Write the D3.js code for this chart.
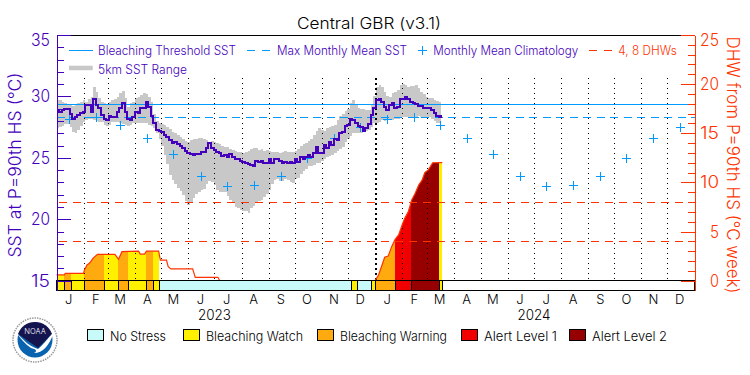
<!DOCTYPE html>
<html>
<head>
<meta charset="utf-8">
<script src="https://cdn.jsdelivr.net/npm/d3@7"></script>
<style>
body { margin:0; background:#fff; }
svg { display:block; }
text { font-family:"Inter","Liberation Sans",sans-serif; font-weight:300; }
</style>
</head>
<body>
<svg id="chart" width="750" height="375"></svg>
<script>
// values
// sst, rangeHigh, rangeLow: one sample every 3 days from 1 Jan 2023
var sst = [28.84,28.75,28.9,28.95,28.95,28.57,28.2,28.3,28.45,28.65,28.75,29.27,29.27,28.75,29.82,29.3,29.03,28.5,28.2,28.1,
  28.4,28.35,28.3,28.75,29.1,29.43,28.75,28.13,28.08,28.35,28.75,28.62,29.1,29.03,29.57,29.15,28.4,27.8,27.3,27.2,
  27.08,26.9,26.72,26.45,26.23,26.3,26.12,26.0,25.77,25.58,25.36,25.31,25.23,25.35,25.3,25.5,25.5,25.77,26.18,25.77,
  25.63,25.5,25.42,25.15,25.23,25.1,25.3,25.09,24.88,24.88,24.77,24.68,24.55,24.5,24.41,24.33,24.77,24.68,24.77,24.55,
  24.55,24.9,24.6,24.93,24.88,24.77,24.55,24.68,24.55,24.68,24.6,24.88,24.68,25.09,24.88,25.09,25.2,25.09,25.36,25.9,
  25.36,25.42,26.04,25.77,26.31,26.04,26.5,26.45,27.05,27.13,27.6,27.67,28.13,28.08,27.81,27.6,27.53,27.2,27.4,27.75,
  28.5,29.1,29.71,29.76,29.57,29.11,28.9,29.3,29.49,29.03,29.11,29.76,29.76,29.92,29.76,29.57,29.43,29.38,29.22,29.22,
  29.03,29.03,29.08,28.9,28.68,28.4,28.35,28.5];
var rangeHigh = [29.7,29.75,29.57,29.44,29.38,29.3,29.2,29.38,29.5,29.57,29.7,29.57,29.76,29.98,30.74,30.4,29.84,29.57,29.44,29.3,
  29.57,29.7,29.76,29.98,30.25,30.47,29.84,29.16,29.44,29.57,29.84,29.98,30.1,30.25,30.2,29.98,29.57,28.6,28.03,27.86,
  27.75,27.67,27.48,27.32,27.1,27.0,26.86,26.67,26.5,26.4,26.31,26.45,26.5,26.55,26.58,26.6,26.55,26.45,26.31,26.4,
  26.29,26.23,26.12,25.96,25.9,25.85,25.74,25.63,25.58,25.47,25.5,25.42,25.5,25.58,25.69,25.77,25.77,25.63,25.7,25.6,
  25.63,25.55,25.5,25.45,25.5,25.4,25.5,25.55,25.45,25.5,25.47,25.55,25.7,26.0,26.1,26.2,26.35,26.5,26.9,27.2,
  27.45,27.3,27.2,27.4,27.5,27.6,27.7,28.1,28.4,28.6,28.8,29.0,29.5,29.7,29.3,29.1,29.0,28.95,28.9,28.9,
  29.3,30.0,30.8,30.9,30.75,30.4,30.0,29.98,30.25,30.4,30.5,30.9,31.05,30.95,30.75,30.85,30.85,30.9,30.7,30.4,
  30.2,29.98,29.9,29.84,29.75,29.6,29.57,29.57];
var rangeLow = [27.4,27.5,27.6,27.75,27.75,27.5,27.1,27.0,27.3,27.6,27.9,28.1,28.2,28.15,28.1,28.0,27.95,27.95,27.7,27.6,
  27.7,27.9,27.95,27.9,27.85,27.75,27.65,27.6,27.7,27.8,27.85,27.85,27.85,27.85,27.8,27.7,27.6,27.4,27.05,26.5,
  26.0,25.2,24.5,23.6,23.2,22.9,22.55,22.3,22.0,21.5,21.15,21.4,21.75,22.05,22.2,22.35,22.5,22.9,23.1,23.0,
  22.8,22.4,22.2,22.2,22.2,21.9,21.6,21.4,21.0,20.95,20.8,20.7,20.65,20.55,20.9,21.1,21.3,21.5,21.55,21.8,
  22.1,22.4,22.9,23.2,23.25,23.1,23.15,23.25,23.2,23.0,22.95,23.3,23.4,23.7,23.9,24.1,24.3,24.3,24.45,24.55,
  24.6,24.75,24.95,25.05,25.15,25.25,25.4,25.6,25.75,25.9,26.3,26.5,26.8,27.0,27.05,27.0,27.05,27.15,27.2,27.3,
  27.5,27.8,27.85,27.95,28.1,28.0,28.05,28.05,28.1,28.2,28.2,28.3,28.3,28.3,28.3,28.35,28.35,28.3,28.4,28.35,
  28.3,28.3,28.3,28.2,28.0,27.85,27.8,27.9];
var sampleStep = 3;

// monthly climatology, Jan..Dec (same for both years)
var climatology = [28.2,28.3,27.67,26.64,25.29,23.55,22.73,22.78,23.55,25.0,26.64,27.5];
var bleachingThreshold = 29.35;
var maxMonthlyMean = 28.32;
var dhwLevels = [4,8];

// DHW, days since 1 Jan 2023, null = no accumulation
var dhwDays = [0,9,10,31,32,35,38,42,47,67,71,75,94,96,101,103,117,119,126,128,131,156,159,185,187,
  188,365,369,373,376,380,384,388,392,396,399,403,407,411,415,419,422,426,431,441,442];
var dhwValues = [0.58,0.58,0.75,0.75,1.1,1.6,1.8,2.3,2.68,2.68,2.17,2.95,3.0,2.7,2.7,3.0,3.0,2.1,2.1,1.43,1.2,1.2,0.34,0.34,0,
  null,0,0.58,1.6,2.38,2.5,3.46,4.2,4.65,5.67,6.35,7.0,8.2,8.9,9.74,10.25,11,11.27,12.0,12.02,12.02];

// stress periods: start day and level, each one runs to the next start
var stressStart = [0,9,17,32,54,71,82,102,110,118,337,344,360,365,388,406,438];
var stressLevel = [1,2,1,2,1,2,1,2,1,0,1,0,1,2,3,4,1];
var stressEnd = 442;

var stressNames = ["No Stress","Bleaching Watch","Bleaching Warning","Alert Level 1","Alert Level 2"];
var stressColors = ["#c8fafa","#fff000","#ffaa0f","#f00000","#960000"];

var purple = "#4400bb", blue = "#0099ff", orange = "#ff3300", grey = "#c8c8c8";

var svg = d3.select("#chart");
var m = {l:56.5, r:694.5, t:35.5, b:290.5};
var barTop = 280.5;

var t0 = new Date(2023,0,1), t1 = new Date(2025,0,1);
var x = d3.scaleTime().domain([t0,t1]).range([m.l,m.r]);
var ySst = d3.scaleLinear().domain([14.25,35]).range([290,35]);
var yDhw = d3.scaleLinear().domain([-0.95,25]).range([290,35]);
function day(d){ return d3.timeDay.offset(t0,d); }

var samples = sst.map(function(v,i){ return {t:day(i*sampleStep), v:v, hi:rangeHigh[i], lo:rangeLow[i]}; });
var dhw = dhwDays.map(function(d,i){ return {t:day(d), v:dhwValues[i]}; });

// grey range
svg.append("path").datum(samples)
    .attr("fill",grey).attr("shape-rendering","crispEdges")
    .attr("d",d3.area().curve(d3.curveStepAfter).x(function(d){return x(d.t);})
        .y0(function(d){return ySst(d.lo);}).y1(function(d){return ySst(d.hi);}));

// stress fill under the DHW curve, none for No Stress
svg.append("clipPath").attr("id","underDhw").append("path").datum(dhw)
    .attr("d",d3.area().defined(function(d){return d.v!==null;})
        .x(function(d){return x(d.t);}).y0(yDhw(0)).y1(function(d){return yDhw(d.v);}));
var stress = stressStart.map(function(s,i){
    return {a:day(s), b:day(i<stressStart.length-1?stressStart[i+1]:stressEnd), level:stressLevel[i], c:stressColors[stressLevel[i]]};
});
svg.append("g").attr("clip-path","url(#underDhw)").selectAll("rect")
    .data(stress.filter(function(d){return d.level>0;})).join("rect")
    .attr("x",function(d){return x(d.a);}).attr("width",function(d){return x(d.b)-x(d.a);})
    .attr("y",yDhw(14)).attr("height",yDhw(0)-yDhw(14))
    .attr("fill",function(d){return d.c;}).attr("shape-rendering","crispEdges");

// month dotted lines
var months = d3.timeMonth.range(d3.timeMonth.offset(t0,1),t1);
function isYearStart(d){ return d.getFullYear()==2024&&d.getMonth()==0; }
svg.append("g").selectAll("line").data(months).join("line")
    .attr("x1",function(d){return Math.round(x(d))+0.5;}).attr("x2",function(d){return Math.round(x(d))+0.5;})
    .attr("y1",78).attr("y2",barTop).attr("shape-rendering","crispEdges")
    .attr("stroke","#000").attr("stroke-dasharray",function(d){return isYearStart(d)?"2,3":"1,4";})
    .attr("stroke-width",function(d){return isYearStart(d)?2:1;});

// reference lines
svg.append("line").attr("x1",m.l).attr("x2",m.r).attr("y1",ySst(bleachingThreshold)).attr("y2",ySst(bleachingThreshold))
    .attr("stroke",blue).attr("stroke-width",1).attr("shape-rendering","crispEdges");
svg.append("line").attr("x1",m.l).attr("x2",m.r).attr("y1",ySst(maxMonthlyMean)).attr("y2",ySst(maxMonthlyMean))
    .attr("stroke",blue).attr("stroke-width",1).attr("stroke-dasharray","8,5.5").attr("shape-rendering","crispEdges");
svg.append("g").selectAll("line").data(dhwLevels).join("line")
    .attr("x1",m.l+2).attr("x2",m.r).attr("y1",function(d){return yDhw(d);}).attr("y2",function(d){return yDhw(d);})
    .attr("stroke",orange).attr("stroke-width",1).attr("stroke-dasharray","8,6").attr("shape-rendering","crispEdges");

// climatology crosses
var climPts = [];
[2023,2024].forEach(function(y){
    climatology.forEach(function(v,i){ climPts.push({t:new Date(y,i,15), v:v}); });
});
svg.append("g").selectAll("path").data(climPts).join("path")
    .attr("transform",function(d){return "translate("+(Math.round(x(d.t))+0.5)+","+(Math.round(ySst(d.v))+0.5)+")";})
    .attr("d","M-4.5,0H4.5M0,-4.5V4.5").attr("shape-rendering","crispEdges")
    .attr("stroke",blue).attr("stroke-width",1).attr("fill","none");

// SST line
svg.append("path").datum(samples)
    .attr("fill","none").attr("stroke",purple).attr("stroke-width",2).attr("shape-rendering","crispEdges")
    .attr("d",d3.line().curve(d3.curveStepAfter).x(function(d){return x(d.t);}).y(function(d){return ySst(d.v);}));

// DHW line
svg.append("path").datum(dhw)
    .attr("fill","none").attr("stroke",orange).attr("stroke-width",1.2)
    .attr("d",d3.line().defined(function(d){return d.v!==null;}).x(function(d){return x(d.t);}).y(function(d){return yDhw(d.v);}));

// stress bar
svg.append("g").selectAll("rect").data(stress).join("rect")
    .attr("x",function(d){return Math.round(x(d.a))+0.5;}).attr("width",function(d){return Math.round(x(d.b))-Math.round(x(d.a));})
    .attr("y",barTop).attr("height",m.b-barTop).attr("shape-rendering","crispEdges")
    .attr("fill",function(d){return d.c;}).attr("stroke","#000").attr("stroke-width",1);
svg.append("rect").attr("x",m.l).attr("y",barTop).attr("width",m.r-m.l).attr("height",m.b-barTop)
    .attr("fill","none").attr("stroke","#000").attr("stroke-width",1).attr("shape-rendering","crispEdges");
svg.append("line").attr("x1",m.l).attr("x2",m.r).attr("y1",m.t).attr("y2",m.t).attr("stroke","#000").attr("stroke-width",1).attr("shape-rendering","crispEdges");

// axes
function tickAxis(axis,transform,color){
    var g = svg.append("g").attr("transform",transform).call(axis);
    g.selectAll("text").remove();
    g.selectAll("line,path").attr("stroke",color).attr("stroke-width",1).attr("shape-rendering","crispEdges");
}
var sstMajor = [15,20,25,30,35], dhwMajor = [0,5,10,15,20,25];
tickAxis(d3.axisLeft(ySst).tickValues(d3.range(15,36)).tickSize(-7).tickSizeOuter(0),"translate("+m.l+",0)",purple);
tickAxis(d3.axisLeft(ySst).tickValues(sstMajor).tickSize(-14).tickSizeOuter(0),"translate("+m.l+",0)",purple);
tickAxis(d3.axisRight(yDhw).tickValues(d3.range(0,26)).tickSize(-7).tickSizeOuter(0),"translate("+m.r+",0)",orange);
tickAxis(d3.axisRight(yDhw).tickValues(dhwMajor).tickSize(-14).tickSizeOuter(0),"translate("+m.r+",0)",orange);

function label(px,py,str,color,size,len,anchor){
    var t = svg.append("text").attr("x",px).attr("y",py).attr("fill",color).attr("font-size",size)
        .attr("text-anchor",anchor||"start").text(str);
    if (len) t.attr("textLength",len).attr("lengthAdjust","spacingAndGlyphs");
    return t;
}

// tick labels
sstMajor.forEach(function(v){
    var py = v==35 ? 46 : ySst(v)+6;
    label(50,py,v,purple,17,19,"end");
});
dhwMajor.forEach(function(v){
    var py = v==25 ? 46 : yDhw(v)+6;
    label(719,py,v,orange,17,v<10?9:19,"end");
});

// axis titles
label(0,0,"SST at P=90th HS (°C)",purple,17,185,"middle").attr("transform","translate(21,165) rotate(-90)");
label(0,0,"DHW from P=90th HS (°C week)",orange,17,257,"middle").attr("transform","translate(727,165) rotate(90)");
label(369,29,"Central GBR (v3.1)","#000",15.5,144,"middle");

// month letters and years
var monthStarts = d3.timeMonth.range(t0,t1);
monthStarts.forEach(function(d){
    label(x(d3.timeDay.offset(d,14)),304,d3.timeFormat("%b")(d)[0],"#000",13,null,"middle");
});
label(x(new Date(2023,6,1)),320,"2023","#000",14,33,"middle");
label(x(new Date(2024,6,1)),320,"2024","#000",14,33,"middle");

// legend at the top
svg.append("line").attr("x1",69).attr("x2",92.7).attr("y1",50.5).attr("y2",50.5).attr("stroke",blue).attr("stroke-width",1).attr("shape-rendering","crispEdges");
label(98,55,"Bleaching Threshold SST",purple,12.5,138);
svg.append("line").attr("x1",247).attr("x2",270).attr("y1",50.5).attr("y2",50.5).attr("stroke",blue).attr("stroke-dasharray","8,7").attr("shape-rendering","crispEdges");
label(277,55,"Max Monthly Mean SST",purple,12.5,130);
svg.append("path").attr("transform","translate(422.5,50.5)").attr("d","M-4.5,0H4.5M0,-4.5V4.5").attr("stroke",blue).attr("fill","none").attr("shape-rendering","crispEdges");
label(433.3,55,"Monthly Mean Climatology",purple,12.5,145);
svg.append("line").attr("x1",589).attr("x2",612).attr("y1",50.5).attr("y2",50.5).attr("stroke",orange).attr("stroke-dasharray","8,7").attr("shape-rendering","crispEdges");
label(618.3,55,"4, 8 DHWs",orange,12.5,58.5);
svg.append("rect").attr("x",69).attr("width",23.7).attr("y",65.7).attr("height",4.5).attr("fill",grey);
label(98,73.5,"5km SST Range",purple,12.5,89);

// stress legend
var swatchX = [87.5,183.5,317.5,461.5,569.5];
var legendLen = [56,97,107,73,75];
stressNames.forEach(function(n,i){
    svg.append("rect").attr("x",swatchX[i]).attr("y",329.5).attr("width",16).attr("height",11)
        .attr("fill",stressColors[i]).attr("stroke","#000").attr("stroke-width",1).attr("shape-rendering","crispEdges");
    label(swatchX[i]+22.5,340.5,n,"#000",13,legendLen[i]);
});

// NOAA logo
var logo = svg.append("g").attr("transform","translate(35,340)");
logo.append("circle").attr("r",22).attr("fill","#fff").attr("stroke","#999").attr("stroke-width",1.5).attr("stroke-dasharray","1.5,1");
logo.append("circle").attr("r",17.5).attr("fill","#0a63ae");
logo.append("path").attr("d","M-17,-6 A18,18 0 0 1 17,-6 L3,8 Z").attr("fill","#14144f");
logo.append("path").attr("d","M-19,-8 C-12,0 -6,6 3,9 C8,5 12,-1 19,-8 C14,6 8,13 -1,13 C3,11 1,9 -4,8 C-10,4 -15,-2 -19,-8 Z").attr("fill","#fff");
logo.append("text").attr("y",-6).attr("text-anchor","middle").attr("fill","#fff").attr("font-size",7.5).attr("font-weight","bold").text("NOAA");
</script>
</body>
</html>
